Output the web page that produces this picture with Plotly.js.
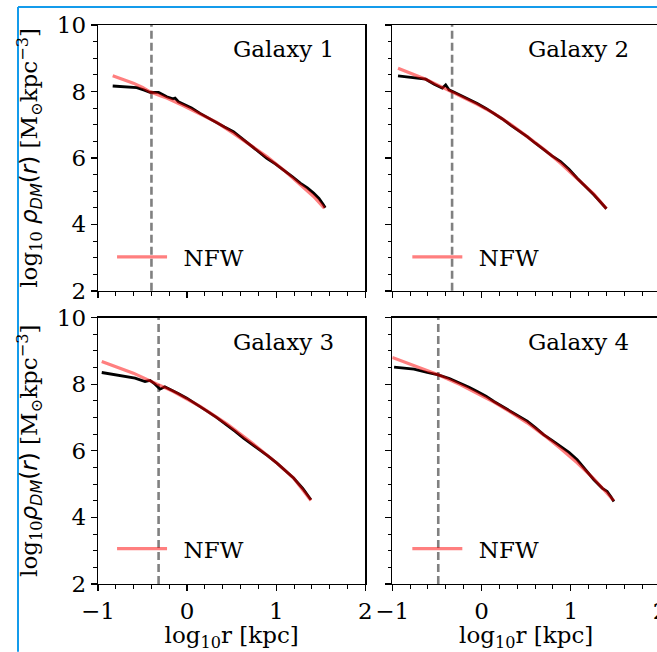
<!DOCTYPE html>
<html><head><meta charset="utf-8">
<script src="https://cdn.plot.ly/plotly-3.0.1.min.js"></script>
<style>html,body{margin:0;padding:0;overflow:hidden;background:#fff}</style>
</head><body><div id="chart" style="width:670px;height:652px"></div>
<script>
// ---- data ----
const galaxyNames = ['Galaxy 1', 'Galaxy 2', 'Galaxy 3', 'Galaxy 4'];
const fitName = '\u2002NFW';
const vlineX = [-0.40, -0.33, -0.32, -0.485];

const g1DataX = [-0.835,-0.70,-0.565,-0.48,-0.416,-0.32,-0.228,-0.16,-0.135,-0.098,-0.022,0.05,0.146,0.24,0.333,0.42,0.52,0.61,0.708,0.80,0.895,0.99,1.082,1.18,1.27,1.35,1.42,1.48,1.53,1.55];
const g1DataY = [8.165,8.14,8.115,8.04,7.97,7.97,7.84,7.78,7.80,7.69,7.59,7.50,7.34,7.20,7.04,6.93,6.79,6.60,6.39,6.20,5.99,5.82,5.64,5.44,5.24,5.10,4.94,4.78,4.59,4.50];
const g1FitX = [-0.835,-0.70,-0.603,-0.50,-0.416,-0.30,-0.228,-0.04,0.146,0.333,0.52,0.708,0.895,1.082,1.27,1.42,1.54];
const g1FitY = [8.47,8.34,8.25,8.12,7.99,7.87,7.80,7.57,7.32,7.07,6.74,6.39,6.04,5.64,5.19,4.84,4.49];

const g2DataX = [-0.936,-0.78,-0.626,-0.53,-0.44,-0.402,-0.365,-0.30,-0.234,-0.14,-0.048,0.05,0.139,0.23,0.326,0.42,0.512,0.60,0.699,0.79,0.886,0.98,1.072,1.17,1.259,1.33,1.40];
const g2DataY = [8.47,8.42,8.37,8.22,8.10,8.20,8.05,7.97,7.89,7.77,7.64,7.49,7.34,7.18,6.99,6.82,6.64,6.45,6.24,6.06,5.89,5.66,5.39,5.14,4.89,4.68,4.47];
const g2FitX = [-0.936,-0.78,-0.626,-0.42,-0.234,-0.048,0.139,0.326,0.512,0.699,0.886,1.072,1.259,1.40];
const g2FitY = [8.70,8.53,8.37,8.10,7.86,7.61,7.34,7.01,6.64,6.26,5.84,5.39,4.91,4.47];

const g3DataX = [-0.958,-0.78,-0.584,-0.472,-0.416,-0.36,-0.303,-0.25,-0.191,-0.10,-0.003,0.11,0.22,0.33,0.446,0.54,0.633,0.73,0.82,0.91,1.008,1.10,1.195,1.30,1.39];
const g3DataY = [8.35,8.27,8.18,8.08,8.11,8.00,7.85,7.92,7.85,7.72,7.58,7.40,7.20,7.00,6.78,6.58,6.38,6.20,6.03,5.84,5.63,5.42,5.18,4.86,4.53];
const g3FitX = [-0.958,-0.78,-0.603,-0.36,-0.154,0.146,0.446,0.708,1.008,1.195,1.39];
const g3FitY = [8.68,8.50,8.33,8.03,7.78,7.33,6.81,6.28,5.63,5.18,4.51];

const g4DataX = [-0.98,-0.87,-0.757,-0.608,-0.485,-0.36,-0.234,-0.14,-0.048,0.05,0.139,0.23,0.326,0.42,0.512,0.60,0.699,0.79,0.886,0.98,1.072,1.17,1.259,1.352,1.408,1.45,1.483];
const g4DataY = [8.51,8.49,8.45,8.35,8.28,8.17,8.03,7.91,7.78,7.64,7.48,7.34,7.20,7.05,6.89,6.70,6.48,6.31,6.13,5.95,5.73,5.43,5.13,4.88,4.78,4.62,4.48];
const g4FitX = [-1.0,-0.757,-0.485,-0.234,-0.048,0.139,0.326,0.512,0.699,0.886,1.072,1.259,1.483];
const g4FitY = [8.80,8.56,8.28,7.98,7.73,7.46,7.16,6.84,6.47,6.07,5.64,5.16,4.50];

const xTickVals = [-1, 0, 1, 2];
const yTickVals = [2, 4, 6, 8, 10];
const xTitleText = 'log<sub>10</sub>r [kpc]';
const yTitleTop = 'log<sub>10</sub> <span style="font-family:DejaVu Sans"><i>ρ<sub>DM</sub></i>(<i>r</i>)</span> [M<sub>⊙</sub>kpc<sup>−3</sup>]';
const yTitleBottom = 'log<sub>10</sub><span style="font-family:DejaVu Sans"><i>ρ<sub>DM</sub></i>(<i>r</i>)</span> [M<sub>⊙</sub>kpc<sup>−3</sup>]';

// ---- build ----
const FONT = 'DejaVu Serif';
const panels = [
  {dx: g1DataX, dy: g1DataY, fx: g1FitX, fy: g1FitY},
  {dx: g2DataX, dy: g2DataY, fx: g2FitX, fy: g2FitY},
  {dx: g3DataX, dy: g3DataY, fx: g3FitX, fy: g3FitY},
  {dx: g4DataX, dy: g4DataY, fx: g4FitX, fy: g4FitY}
];
const axIds = ['', '2', '3', '4'];
const traces = [];
panels.forEach((p, i) => {
  const xa = 'x' + axIds[i], ya = 'y' + axIds[i];
  traces.push({x: p.dx, y: p.dy, xaxis: xa, yaxis: ya, mode: 'lines', showlegend: false,
    line: {color: 'black', width: 2.8}, hoverinfo: 'skip'});
  traces.push({x: p.fx, y: p.fy, xaxis: xa, yaxis: ya, mode: 'lines', name: fitName,
    legend: i === 0 ? 'legend' : 'legend' + (i + 1),
    line: {color: 'rgba(255,0,0,0.5)', width: 3.2}, hoverinfo: 'skip'});
});

const W = 670, H = 652;
const mL = 98, mR = 10, mT = 25, mB = 67.7;
const pw = W - mL - mR, ph = H - mT - mB;
const colDom = [[0, 267.3 / pw], [(392.3 - mL) / pw, 1]];
const rowDom = [[(ph - 266) / ph, 1], [0, 266.6 / ph]];

function xAxis(col, row, id) {
  return {domain: colDom[col], anchor: 'y' + id, range: [-1, 2], tickvals: xTickVals, showline: true, mirror: true,
    linecolor: 'black', linewidth: 1.3, ticks: 'outside', ticklen: 6, tickwidth: 1.3, tickcolor: 'black',
    showgrid: false, zeroline: false, showticklabels: row === 1,
    tickfont: {family: FONT, size: 23, color: 'black'},
    minor: {dtick: 0.2, tick0: 0, ticks: 'outside', ticklen: 3.5, tickwidth: 1, tickcolor: 'black', showgrid: false},
    title: row === 1 ? {text: xTitleText, font: {family: FONT, size: 23, color: 'black'}, standoff: 6} : {text: ''}
  };
}
function yAxis(col, row, id) {
  return {domain: rowDom[row], anchor: 'x' + id, range: [2, 10], tickvals: yTickVals, showline: true, mirror: true,
    linecolor: 'black', linewidth: 1.3, ticks: 'outside', ticklen: 6, tickwidth: 1.3, tickcolor: 'black',
    showgrid: false, zeroline: false, showticklabels: col === 0,
    tickfont: {family: FONT, size: 23, color: 'black'},
    minor: {dtick: 0.5, tick0: 0, ticks: 'outside', ticklen: 3.5, tickwidth: 1, tickcolor: 'black', showgrid: false},
    title: col === 0 ? {text: row === 0 ? yTitleTop : yTitleBottom, font: {family: FONT, size: 23, color: 'black'}, standoff: 12} : {text: ''}
  };
}

const layout = {
  width: W, height: H, margin: {l: mL, r: mR, t: mT, b: mB},
  paper_bgcolor: 'white', plot_bgcolor: 'white',
  font: {family: FONT, size: 23, color: 'black'},
  xaxis: xAxis(0, 0, ''), yaxis: yAxis(0, 0, ''),
  xaxis2: xAxis(1, 0, '2'), yaxis2: yAxis(1, 0, '2'),
  xaxis3: xAxis(0, 1, '3'), yaxis3: yAxis(0, 1, '3'),
  xaxis4: xAxis(1, 1, '4'), yaxis4: yAxis(1, 1, '4'),
  annotations: [],
  shapes: [],
};
const legPos = [[0.025, 0.5852], [0.5504, 0.5852], [0.025, 0.0631], [0.5504, 0.0631]];
legPos.forEach((lp, i) => {
  const key = i === 0 ? 'legend' : 'legend' + (i + 1);
  layout[key] = {x: lp[0], y: lp[1], xanchor: 'left', yanchor: 'middle', bgcolor: 'rgba(0,0,0,0)',
    borderwidth: 0, itemwidth: 50, font: {family: FONT, size: 23, color: 'black'}};
});
galaxyNames.forEach((name, i) => {
  layout.annotations.push({text: name, xref: 'x' + axIds[i] + ' domain', yref: 'y' + axIds[i] + ' domain',
    x: 0.89, y: 0.91, xanchor: 'right', yanchor: 'middle', showarrow: false,
    font: {family: FONT, size: 23, color: 'black'}});
  layout.shapes.push({type: 'line', layer: 'below', xref: 'x' + axIds[i], yref: 'y' + axIds[i] + ' domain',
    x0: vlineX[i], x1: vlineX[i], y0: 0, y1: 1, line: {color: 'rgb(128,128,128)', width: 2.6, dash: '8px,4px'}});
});
// blue frame edges of the screenshot
layout.shapes.push({type: 'line', xref: 'paper', yref: 'paper', x0: (18 - mL) / pw, x1: (18 - mL) / pw,
  y0: -mB / ph, y1: (ph + mT - 7) / ph, line: {color: 'rgb(20,155,235)', width: 2}});
layout.shapes.push({type: 'line', xref: 'paper', yref: 'paper', x0: (18 - mL) / pw, x1: (W - mL) / pw,
  y0: (ph + mT - 7) / ph, y1: (ph + mT - 7) / ph, line: {color: 'rgb(20,155,235)', width: 2}});

Plotly.newPlot('chart', traces, layout, {staticPlot: true, displayModeBar: false});
</script>
</body></html>
